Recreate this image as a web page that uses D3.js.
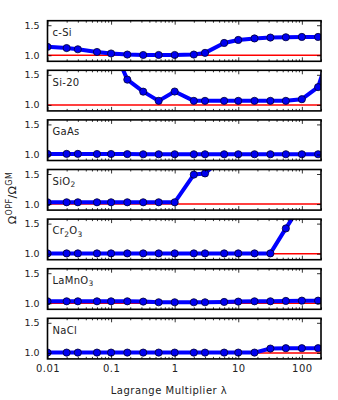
<!DOCTYPE html>
<html>
<head>
<meta charset="utf-8">
<script src="https://cdn.jsdelivr.net/npm/d3@7"></script>
<style>
  body { margin: 0; background: #fff; }
  text { font-family: "DejaVu Sans", sans-serif; fill: #222; }
</style>
</head>
<body>
<svg id="chart" width="338" height="400"></svg>
<script>
'use strict';

// lambda values shared by all systems (Si-20 has one extra point past the axis)
var lambdas = [0.01, 0.02, 0.03, 0.06, 0.1, 0.18, 0.32, 0.56, 1, 2, 3, 6, 10, 18, 32, 56, 100, 180, 320];

var names = ['c-Si', 'Si-20', 'GaAs', 'SiO2', 'Cr2O3', 'LaMnO3', 'NaCl'];

var cSi    = [1.14, 1.12, 1.10, 1.055, 1.03, 1.012, 1.005, 1.005, 1.005, 1.012, 1.04, 1.205, 1.255, 1.28, 1.295, 1.30, 1.305, 1.305];
var si20   = [2.9, 2.7, 2.5, 2.3, 2.04, 1.42, 1.22, 1.067, 1.222, 1.067, 1.067, 1.067, 1.067, 1.067, 1.067, 1.067, 1.095, 1.295, 2.1];
var gaAs   = [1.01, 1.01, 1.01, 1.008, 1.008, 1.006, 1.004, 1.004, 1.004, 1.004, 1.004, 1.004, 1.004, 1.004, 1.004, 1.004, 1.004, 1.004];
var siO2   = [1.03, 1.03, 1.03, 1.03, 1.03, 1.03, 1.03, 1.03, 1.03, 1.49, 1.51, 1.79, 2.1, 2.3, 2.4, 2.5, 2.5, 2.6];
var cr2O3  = [1.005, 1.005, 1.005, 1.005, 1.005, 1.005, 1.005, 1.005, 1.005, 1.005, 1.005, 1.005, 1.005, 1.005, 1.005, 1.42, 1.84, 2.2];
var laMnO3 = [1.033, 1.033, 1.033, 1.033, 1.033, 1.033, 1.028, 1.017, 1.017, 1.017, 1.017, 1.022, 1.028, 1.033, 1.033, 1.039, 1.044, 1.044];
var naCl   = [1.005, 1.005, 1.005, 1.005, 1.005, 1.005, 1.005, 1.005, 1.005, 1.005, 1.005, 1.005, 1.005, 1.005, 1.072, 1.078, 1.078, 1.078];

var series = [cSi, si20, gaAs, siO2, cr2O3, laMnO3, naCl];

var xTicks = [0.01, 0.1, 1, 10, 100];
var yTicks = [1.0, 1.5];
var reference = 1.0;

var margin = {left: 47.5, right: 17, top: 20.7};
var W = 338, panelH = 40.6, step = 49.6;
var width = W - margin.left - margin.right;

var svg = d3.select('#chart');

var x = d3.scaleLog().domain([0.01, 200]).range([0, width]);
var y = d3.scaleLinear().domain([0.9, 1.575]).range([panelH, 0]);

// minor ticks 2..9 per decade
var minor = [];
[0.01, 0.1, 1, 10, 100].forEach(function(d) {
  for (var k = 2; k <= 9; k++) if (d * k <= 200) minor.push(d * k);
});

svg.append('defs').append('clipPath').attr('id', 'clip')
  .append('rect').attr('width', width).attr('height', panelH);

var line = d3.line()
  .x(function(d) { return x(d.l); })
  .y(function(d) { return y(d.v); });

// writes a chemical formula with subscript digits
var writeName = function(t, name) {
  var low = false;
  name.split(/(\d)/).filter(function(s) { return s !== ''; }).forEach(function(s) {
    var sub = /\d/.test(s) && name !== 'Si-20';
    var span = t.append('tspan').text(s);
    if (sub && !low) { span.attr('dy', 2.5); low = true; }
    else if (!sub && low) { span.attr('dy', -2.5); low = false; }
    if (sub) span.style('font-size', '7.5px');
  });
};

series.forEach(function(vals, i) {
  var g = svg.append('g')
    .attr('transform', 'translate(' + margin.left + ',' + (margin.top + i * step) + ')');

  var pts = vals.map(function(v, j) { return {l: lambdas[j], v: v}; });

  var plot = g.append('g').attr('clip-path', 'url(#clip)');

  plot.append('line')
    .attr('x1', 0).attr('x2', width)
    .attr('y1', y(reference)).attr('y2', y(reference))
    .style('stroke', '#ff0000')
    .style('stroke-width', 1.5);

  plot.append('path')
    .datum(pts)
    .attr('d', line)
    .style('fill', 'none')
    .style('stroke', '#0000ff')
    .style('stroke-width', 4)
    .style('stroke-linejoin', 'round');

  plot.selectAll('circle')
    .data(pts.filter(function(d) { return d.l <= 200; }))
    .enter().append('circle')
    .attr('cx', function(d) { return x(d.l); })
    .attr('cy', function(d) { return y(d.v); })
    .attr('r', 3.6)
    .style('fill', '#0000f0')
    .style('stroke', '#000030')
    .style('stroke-width', 0.8);

  // ticks inward on all sides
  var bottom = d3.axisBottom(x).tickValues(xTicks).tickSize(-4).tickFormat('');
  var top = d3.axisTop(x).tickValues(xTicks).tickSize(-4).tickFormat('');
  var bottomMinor = d3.axisBottom(x).tickValues(minor).tickSize(-2).tickFormat('');
  var topMinor = d3.axisTop(x).tickValues(minor).tickSize(-2).tickFormat('');
  var left = d3.axisLeft(y).tickValues(yTicks).tickSize(-4).tickPadding(8).tickFormat(d3.format('.1f'));
  var right = d3.axisRight(y).tickValues(yTicks).tickSize(-4).tickFormat('');

  [[bottom, panelH], [bottomMinor, panelH], [top, 0], [topMinor, 0]].forEach(function(a) {
    g.append('g').attr('class', 'ax').attr('transform', 'translate(0,' + a[1] + ')').call(a[0]);
  });
  g.append('g').attr('class', 'ax').call(left);
  g.append('g').attr('class', 'ax').attr('transform', 'translate(' + width + ',0)').call(right);

  g.selectAll('.ax .domain').remove();
  g.selectAll('.ax line').style('stroke', '#000').style('stroke-width', 0.8);
  g.selectAll('.ax text').style('font-size', '9.5px').style('fill', '#222')
    .style('font-family', '"DejaVu Sans", sans-serif');

  g.append('rect')
    .attr('width', width).attr('height', panelH)
    .style('fill', 'none')
    .style('stroke', '#000')
    .style('stroke-width', 1.6);

  var t = g.append('text').attr('x', 5).attr('y', 15.3)
    .style('font-size', '10px').style('letter-spacing', '0.3px');
  writeName(t, names[i]);

  if (i === series.length - 1) {
    g.append('g')
      .attr('transform', 'translate(0,' + panelH + ')')
      .call(d3.axisBottom(x).tickValues(xTicks).tickSize(0).tickPadding(6.5)
        .tickFormat(function(d) { return d >= 1 ? d3.format('d')(d) : String(d); }))
      .call(function(s) {
        s.select('.domain').remove();
        s.selectAll('text').style('font-size', '10px').style('fill', '#222')
          .style('letter-spacing', '0.5px')
          .style('font-family', '"DejaVu Sans", sans-serif');
      });
  }
});

svg.append('text')
  .attr('x', 169).attr('y', 394)
  .attr('text-anchor', 'middle')
  .style('font-size', '10px')
  .style('letter-spacing', '0.5px')
  .text('Lagrange Multiplier \u03bb');

var yl = svg.append('text')
  .attr('transform', 'translate(15.5,198) rotate(-90)')
  .attr('text-anchor', 'middle')
  .style('font-size', '11px')
  .style('letter-spacing', '0.4px');
yl.append('tspan').text('\u03a9');
yl.append('tspan').attr('dy', -4).style('font-size', '8px').text('OPF');
yl.append('tspan').attr('dy', 4).text('/\u03a9');
yl.append('tspan').attr('dy', -4).style('font-size', '8px').text('GM');
</script>
</body>
</html>
